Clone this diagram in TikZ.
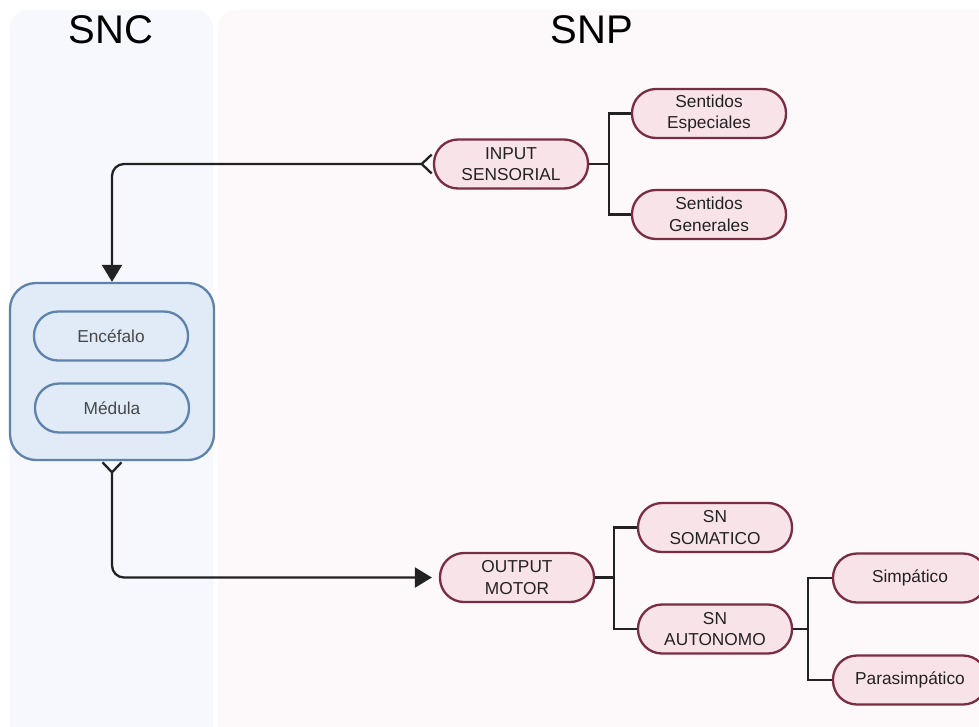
\documentclass[tikz,border=0pt]{standalone}
\usepackage{fontspec}
\setmainfont{Liberation Sans}
\usetikzlibrary{arrows.meta}
\definecolor{sncbg}{HTML}{F6F8FD}
\definecolor{snpbg}{HTML}{FDF8F9}
\definecolor{cnsfill}{HTML}{E1EBF7}
\definecolor{cnsline}{HTML}{5E82AC}
\definecolor{pillfill}{HTML}{F8E3E9}
\definecolor{pillline}{HTML}{7A2C43}
\definecolor{ink}{HTML}{222222}
\begin{document}
\begin{tikzpicture}[x=1pt,y=-1pt,
  pill/.style={draw=pillline, fill=pillfill, line width=2.3pt, rounded corners=24pt,
    minimum width=154pt, minimum height=49pt, align=center,
    font=\fontsize{17.3}{21.5}\selectfont, text=ink, inner sep=0pt},
  cnspill/.style={pill, draw=cnsline, fill=cnsfill, text=black!72},
  cnsbox/.style={draw=cnsline, fill=cnsfill, line width=2.3pt, rounded corners=26pt,
    minimum width=204pt, minimum height=177pt, inner sep=0pt},
  conn/.style={draw=ink, line width=2.3pt},
  title/.style={font=\fontsize{40}{48}\selectfont, text=black, anchor=base, inner sep=0pt},
  barb/.tip={Straight Barb[reversed,length=10pt,width=19pt]},
  tri/.tip={Triangle[length=17pt,width=20pt]}
]
\useasboundingbox (0,0) rectangle (979,726);
\clip (0,0) rectangle (979,726);
\fill[white] (0,0) rectangle (979,726);
% panels
\fill[sncbg, rounded corners=18pt] (10,10) rectangle (213,760);
\fill[snpbg, rounded corners=18pt] (218,10) rectangle (1010,760);
\node[title] (tsnc) at (111,43) {SNC};
\node[title] (tsnp) at (592,43) {SNP};
% CNS
\node[cnsbox] (cns) at (112,371.5) {};
\node[cnspill] (enc) at (111,336) {Encéfalo};
\node[cnspill] (med) at (112,408) {Médula};
% input side
\node[pill] (in) at (511,164) {INPUT\\SENSORIAL};
\node[pill] (se) at (709,113.5) {Sentidos\\Especiales};
\node[pill] (sg) at (709,214.5) {Sentidos\\Generales};
% output side
\node[pill] (out) at (517,577.5) {OUTPUT\\MOTOR};
\node[pill] (som) at (715,527.5) {SN\\SOMATICO};
\node[pill] (aut) at (715,629) {SN\\AUTONOMO};
\node[pill] (sim) at (910,578) {Simpático};
\node[pill] (par) at (910,680) {Parasimpático};
% forks
\coordinate (f1) at (609,164);
\coordinate (f2) at (614,577.5);
\coordinate (f3) at (808,629);
\draw[conn] (in.east) -- (f1);
\draw[conn] (se.west) -| (f1) |- (sg.west);
\draw[conn] (out.east) -- (f2);
\draw[conn] (som.west) -| (f2) |- (aut.west);
\draw[conn] (aut.east) -- (f3);
\draw[conn] (sim.west) -| (f3) |- (par.west);
% main connectors
\draw[conn, rounded corners=12pt, {barb}-{tri}] (in.west) -| (cns.north);
\draw[conn, rounded corners=12pt, {barb}-{tri}, shorten >=7pt] (cns.south) |- (out.west);
\end{tikzpicture}
\end{document}
